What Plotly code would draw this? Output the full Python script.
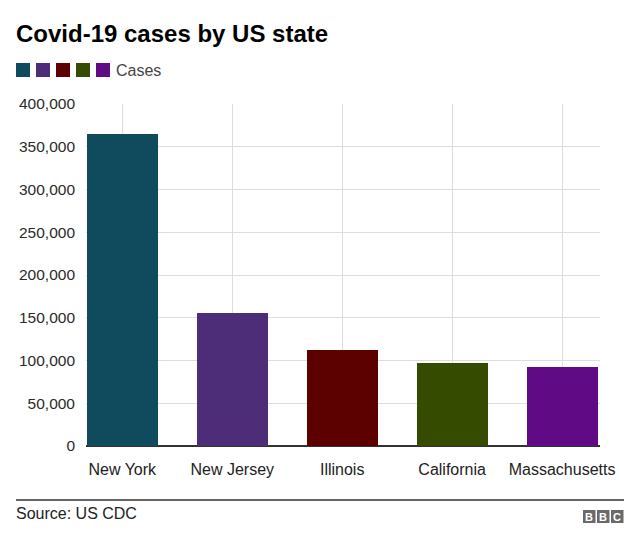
import plotly.graph_objects as go

states = ["New York", "New Jersey", "Illinois", "California", "Massachusetts"]
cases = [365000, 155000, 112500, 96500, 92500]
colors = ["#0f4b5c", "#4e2d78", "#5c0000", "#354c00", "#600b85"]
y_ticks = [0, 50000, 100000, 150000, 200000, 250000, 300000, 350000, 400000]

FONT = "Liberation Sans, Arial, sans-serif"

fig = go.Figure()
fig.add_trace(go.Bar(
    x=list(range(len(states))), y=cases,
    marker=dict(color=colors, line=dict(width=0)),
    width=0.645, showlegend=False, hoverinfo="skip",
))

W, H = 640, 544
OFF = 8  # page body offset
L, R, T, B = 86 - OFF, 48, 104 - OFF, 106

def px(x):
    return (x - OFF - L) / (W - L - R)

def py(y):
    return (H - B - (y - OFF)) / (H - T - B)

shapes = []
# legend squares
for i, c in enumerate(colors):
    x0 = 16 + i * 20
    shapes.append(dict(type="rect", xref="paper", yref="paper",
                       x0=px(x0), x1=px(x0 + 14), y0=py(77), y1=py(63),
                       fillcolor=c, line=dict(width=0)))
# footer line
shapes.append(dict(type="line", xref="paper", yref="paper",
                   x0=px(16), x1=px(624), y0=py(500), y1=py(500),
                   line=dict(color="#333333", width=1.3)))
# BBC boxes
annotations = []
for i, letter in enumerate("BBC"):
    x0 = 583 + i * 14
    shapes.append(dict(type="rect", xref="paper", yref="paper",
                       x0=px(x0), x1=px(x0 + 12.5), y0=py(523), y1=py(510),
                       fillcolor="#6a6a6a", line=dict(width=0)))
    annotations.append(dict(text="<b>" + letter + "</b>", xref="paper", yref="paper",
                            x=px(x0 + 6.25), y=py(516.5), showarrow=False,
                            font=dict(family=FONT, size=11, color="white"),
                            xanchor="center", yanchor="middle"))

annotations += [
    dict(text="<b>Covid-19 cases by US state</b>", xref="paper", yref="paper",
         x=px(14), y=py(33), xanchor="left", yanchor="middle", showarrow=False,
         font=dict(family=FONT, size=24, color="#000000")),
    dict(text="Cases", xref="paper", yref="paper",
         x=px(114), y=py(70), xanchor="left", yanchor="middle", showarrow=False,
         font=dict(family=FONT, size=16, color="#444444")),
    dict(text="Source: US CDC", xref="paper", yref="paper",
         x=px(14), y=py(514), xanchor="left", yanchor="middle", showarrow=False,
         font=dict(family=FONT, size=16, color="#222222")),
]

fig.update_layout(
    width=W, height=H,
    margin=dict(l=L, r=R, t=T, b=B),
    paper_bgcolor="white", plot_bgcolor="white",
    shapes=shapes, annotations=annotations,
    bargap=0,
    xaxis=dict(
        range=[-0.33, 4.345], tickvals=list(range(len(states))), ticktext=states,
        showgrid=True, gridcolor="#dddddd", gridwidth=1,
        showline=False, zeroline=False, ticks="", ticklabelstandoff=12,
        tickfont=dict(family=FONT, size=16, color="#222222"),
        fixedrange=True,
    ),
    yaxis=dict(
        range=[0, 400000], tickvals=y_ticks, tickformat=",",
        showgrid=True, gridcolor="#dddddd", gridwidth=1,
        zeroline=True, zerolinecolor="#333333", zerolinewidth=1.5,
        ticks="", ticklabelstandoff=10,
        tickfont=dict(family=FONT, size=15.5, color="#2a2a2a"),
        fixedrange=True,
    ),
    font=dict(family=FONT),
)

fig.write_html("out.html")
